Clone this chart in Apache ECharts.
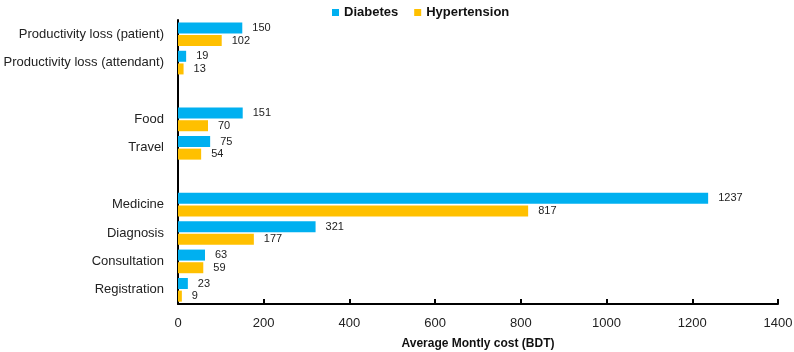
<!DOCTYPE html>
<html>
<head>
<meta charset="utf-8">
<script src="https://cdn.jsdelivr.net/npm/echarts@6/dist/echarts.min.js"></script>
<style>
  html, body { margin: 0; padding: 0; background: #fff; }
  #chart { width: 794px; height: 352px; }
</style>
</head>
<body>
<div id="chart"></div>
<script>
  // top to bottom, blanks are the gaps between groups
  var categories = ['Productivity loss (patient)', 'Productivity loss (attendant)', '', 'Food', 'Travel', '', 'Medicine', 'Diagnosis', 'Consultation', 'Registration'];
  var diabetes = [150, 19, null, 151, 75, null, 1237, 321, 63, 23];
  var hypertension = [102, 13, null, 70, 54, null, 817, 177, 59, 9];
  var xTicks = [0, 200, 400, 600, 800, 1000, 1200, 1400];

  var fontFamily = '"Liberation Sans", Arial, sans-serif';
  var chart = echarts.init(document.getElementById('chart'));

  var labelStyle = {
    show: true,
    position: 'right',
    distance: 10,
    color: '#222',
    fontSize: 11,
    fontFamily: fontFamily
  };

  var option = {
    animation: false,
    textStyle: { fontFamily: fontFamily },
    legend: {
      top: 1,
      left: 327,
      icon: 'rect',
      itemWidth: 7,
      itemHeight: 7,
      itemGap: 16,
      textStyle: {
        fontSize: 13,
        fontWeight: 'bold',
        color: '#111',
        fontFamily: fontFamily
      },
      data: ['Diabetes', 'Hypertension']
    },
    grid: {
      left: 178,
      right: 16,
      top: 20,
      bottom: 48,
      containLabel: false,
      outerBoundsMode: 'none'
    },
    xAxis: {
      type: 'value',
      min: xTicks[0],
      max: xTicks[xTicks.length - 1],
      interval: 200,
      name: 'Average Montly cost (BDT)',
      nameLocation: 'middle',
      nameGap: 34,
      nameTextStyle: {
        fontSize: 12,
        fontWeight: 'bold',
        color: '#111'
      },
      axisLine: { show: true, lineStyle: { color: '#000', width: 2 } },
      axisTick: { show: true, inside: true, length: 5, lineStyle: { color: '#000', width: 2 } },
      axisLabel: {
        color: '#222',
        fontSize: 13,
        margin: 13,
        formatter: function (v) { return String(v); }
      },
      splitLine: { show: false }
    },
    yAxis: {
      type: 'category',
      inverse: true,
      data: categories,
      axisLine: { show: true, lineStyle: { color: '#000', width: 2 } },
      axisTick: { show: false },
      axisLabel: { color: '#222', fontSize: 13, margin: 14 },
      splitLine: { show: false }
    },
    series: [
      {
        name: 'Diabetes',
        type: 'bar',
        barWidth: 11,
        barGap: '15%',
        itemStyle: { color: '#00B0F0' },
        label: labelStyle,
        data: diabetes
      },
      {
        name: 'Hypertension',
        type: 'bar',
        barWidth: 11,
        barGap: '15%',
        itemStyle: { color: '#FFC000' },
        label: labelStyle,
        data: hypertension
      }
    ]
  };

  chart.setOption(option);
</script>
</body>
</html>
